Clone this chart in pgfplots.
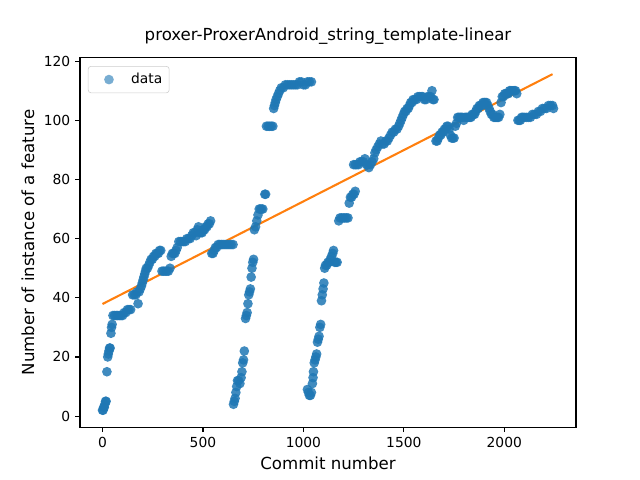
\documentclass[border=0pt]{standalone}
\usepackage{fontspec}
\setmainfont{DejaVu Sans}
\usepackage{pgfplots}
\pgfplotsset{compat=1.18}
\definecolor{mplblue}{RGB}{31,119,180}
\definecolor{mplorange}{RGB}{255,127,14}
\begin{document}
\begin{tikzpicture}
\path[use as bounding box] (-0.8in,-0.528in) rectangle (5.6in,4.272in);
\begin{axis}[
  at={(0,0)}, anchor=south west,
  scale only axis, width=4.96in, height=3.696in,
  xmin=-112, xmax=2357, ymin=-3.75, ymax=121.2,
  xtick={0,500,1000,1500,2000}, ytick={0,20,...,120},
  tick align=outside, major tick length=3.5pt,
  xtick pos=left, ytick pos=left,
  tick style={line width=0.8pt, black},
  axis line style={line width=0.8pt},
  /pgf/number format/assume math mode=true,
  /pgf/number format/set thousands separator={},
  ticklabel style={font=\fontsize{10}{12}\selectfont},
  xlabel={Commit number}, ylabel={Number of instance of a feature},
  label style={font=\fontsize{12}{14}\selectfont},
  title={proxer-ProxerAndroid\_string\_template-linear},
  title style={font=\fontsize{12}{14}\selectfont, at={(0.5,1)}, anchor=base, yshift=6pt},
  legend style={at={(0.016,0.977)}, anchor=north west, draw=black!20, rounded corners=2pt,
    font=\fontsize{10}{12}\selectfont, inner xsep=3pt, inner ysep=2pt,
    nodes={inner xsep=2pt, inner ysep=3pt}},
  legend cell align=left,
  legend image code/.code={\path[draw=none, fill=none, use as bounding box] (0pt,-3.5pt) rectangle (26pt,3.5pt);
    \fill[draw=none, fill=mplblue, fill opacity=0.6] (12pt,0pt) circle (3.5pt);},
]
\addplot[mplblue, only marks, mark=*, mark size=3.5pt, mark options={draw opacity=0, fill=mplblue, fill opacity=0.85}] table {
x y
0 2
3 2
6 3
9 3
12 4
15 5
18 5
22 15
26 20
29 21
32 22
35 23
38 23
42 28
45 30
48 31
52 34
60 34
68 34
76 34
84 34
92 34
100 34
108 35
116 35
124 36
132 36
140 36
150 41
158 41
166 41
172 42
177 38
182 42
188 43
194 44
198 45
202 46
206 47
210 48
214 49
218 50
224 50
230 51
236 52
242 53
248 53
254 54
260 54
266 55
272 55
278 55
284 56
290 56
296 49
304 49
312 49
320 49
328 49
336 50
342 54
348 55
354 55
360 55
366 56
372 57
380 59
388 59
396 59
404 59
412 59
420 60
428 60
436 60
444 61
452 62
460 62
466 61
472 63
478 64
484 62
490 62
496 62
502 63
508 63
514 64
520 64
526 65
532 65
538 66
544 55
550 55
556 56
562 57
568 57
576 58
584 58
592 58
600 58
610 58
620 58
630 58
640 58
650 58
652 4
656 5
660 6
664 8
668 10
672 12
678 12
684 11
690 13
694 15
698 18
702 19
706 22
712 33
716 34
720 35
724 38
728 41
732 42
736 43
740 47
744 50
748 52
752 53
756 63
762 64
768 66
774 68
780 70
786 70
792 70
798 70
808 75
812 75
816 98
824 98
832 98
840 98
848 98
852 104
856 105
860 106
864 107
870 108
876 109
882 110
890 111
900 111
910 112
920 112
930 112
940 112
950 112
960 112
970 112
980 113
990 113
1000 112
1010 112
1020 113
1030 113
1040 113
1020 9
1025 8
1030 7
1035 7
1040 8
1045 11
1048 13
1050 15
1054 18
1058 19
1062 20
1066 21
1070 25
1074 26
1078 27
1082 30
1086 31
1090 39
1094 41
1098 43
1102 45
1106 50
1110 51
1116 51
1122 52
1128 52
1134 53
1140 54
1146 55
1150 56
1156 52
1162 52
1168 52
1176 66
1182 67
1190 67
1198 67
1206 67
1214 67
1222 67
1228 72
1234 74
1240 74
1246 75
1252 75
1258 76
1250 85
1258 85
1266 85
1274 85
1282 86
1290 86
1298 86
1306 87
1314 85
1320 85
1326 84
1334 85
1342 86
1350 87
1356 89
1362 90
1370 91
1378 92
1386 93
1394 92
1402 92
1410 93
1418 93
1426 94
1434 95
1442 96
1450 96
1458 97
1466 97
1474 98
1480 99
1486 100
1492 101
1498 102
1504 103
1510 103
1516 104
1522 104
1528 105
1534 106
1540 106
1546 107
1554 107
1562 107
1570 108
1578 108
1586 108
1594 108
1602 107
1610 107
1618 108
1626 108
1634 108
1640 110
1645 107
1650 107
1660 93
1666 93
1672 94
1678 95
1684 95
1690 96
1696 96
1702 97
1708 97
1714 98
1720 98
1726 97
1732 95
1738 94
1744 94
1750 94
1756 98
1762 99
1768 101
1774 101
1780 101
1786 101
1792 101
1798 100
1804 101
1810 101
1816 101
1822 101
1828 101
1834 101
1840 102
1846 102
1852 102
1858 103
1864 104
1870 104
1876 105
1882 105
1888 105
1894 106
1900 106
1906 106
1912 106
1918 105
1924 104
1930 103
1936 102
1942 102
1948 101
1954 101
1960 101
1966 101
1972 101
1978 102
1984 106
1990 108
1996 108
2002 109
2008 109
2014 109
2020 109
2026 110
2032 110
2038 110
2044 110
2050 110
2056 110
2062 109
2068 100
2074 100
2080 100
2086 101
2092 101
2100 101
2110 101
2120 101
2130 101
2140 102
2150 102
2160 102
2170 103
2180 103
2190 104
2200 104
2210 104
2220 105
2230 105
2240 105
2245 104
};
\addlegendentry{data}
\addplot[mplorange, line width=1.5pt, forget plot] coordinates {(0,37.9) (2240,115.6)};
\end{axis}
\end{tikzpicture}
\end{document}
